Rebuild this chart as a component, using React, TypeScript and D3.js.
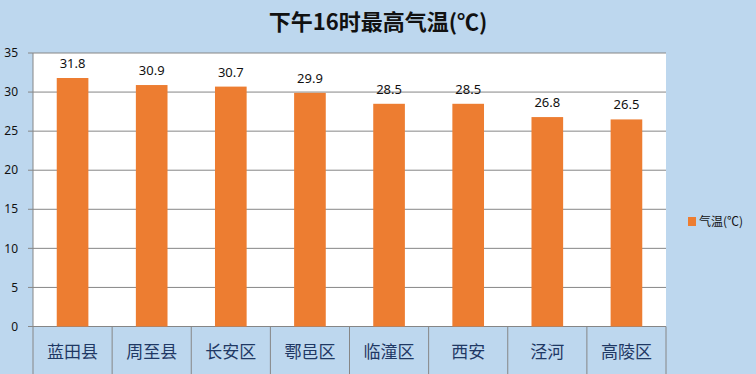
import React from "react";
import * as d3 from "d3";

const categories = ["蓝田县", "周至县", "长安区", "鄠邑区", "临潼区", "西安", "泾河", "高陵区"];
const values = [31.8, 30.9, 30.7, 29.9, 28.5, 28.5, 26.8, 26.5];
const yTicks = [0, 5, 10, 15, 20, 25, 30, 35];
const title = "下午16时最高气温(℃)";
const seriesName = "气温(℃)";

const W = 756;
const H = 374;
const M = { left: 33, right: 666, top: 53, bottom: 326.5 };

export default function App() {
  const x = d3.scaleBand<string>().domain(categories).range([M.left, M.right]).paddingInner(0).paddingOuter(0);
  const y = d3.scaleLinear().domain([0, 35]).range([M.bottom, M.top]);
  const step = x.step();
  const barW = step * 0.4;
  const grid = "#868686";
  const font = "'Noto Sans', 'Noto Sans CJK SC', sans-serif";
  const cjk = "'Noto Sans CJK SC', sans-serif";
  return (
    <svg width={W} height={H} style={{ position: "absolute", left: 0, top: 0, display: "block" }}>
      <rect x={0} y={0} width={W} height={H} fill="#BDD7EE" />
      <rect x={M.left} y={M.top} width={M.right - M.left} height={M.bottom - M.top} fill="#FFFFFF" />
      <text x={378} y={30} textAnchor="middle" fontFamily={cjk} fontWeight="bold" fontSize={22} fill="#111">
        {title}
      </text>
      {yTicks.map((t) => (
        <g key={t}>
          <line x1={M.left - 5} x2={M.right} y1={y(t)} y2={y(t)} stroke={grid} strokeWidth={1} />
          <text x={18} y={y(t)} dy="0.35em" textAnchor="end" fontFamily={font} fontSize={12} fill="#111">
            {t}
          </text>
        </g>
      ))}
      <line x1={M.left} x2={M.left} y1={M.top} y2={H} stroke={grid} strokeWidth={1} />
      {categories.map((c, i) => (
        <line key={"s" + i} x1={(x(c) as number) + step} x2={(x(c) as number) + step} y1={M.bottom} y2={H} stroke={grid} strokeWidth={1} />
      ))}
      {categories.map((c, i) => {
        const cx = (x(c) as number) + step / 2;
        return (
          <g key={c}>
            <rect x={cx - barW / 2} y={y(values[i])} width={barW} height={M.bottom - y(values[i])} fill="#ED7D31" />
            <text x={cx} y={y(values[i]) - 10} textAnchor="middle" fontFamily={font} fontSize={13} fill="#111">
              {values[i]}
            </text>
            <text x={cx} y={358} textAnchor="middle" fontFamily={cjk} fontSize={17} fill="#1F3864">
              {c}
            </text>
          </g>
        );
      })}
      <rect x={688} y={217} width={8} height={9} fill="#ED7D31" />
      <text x={699} y={221.5} dy="0.35em" fontFamily={cjk} fontSize={12} fill="#111">
        {seriesName}
      </text>
    </svg>
  );
}
